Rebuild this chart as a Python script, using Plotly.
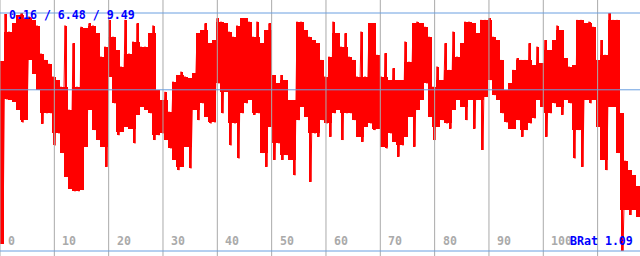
import numpy as np
import plotly.graph_objects as go

# Upper / lower envelope of the signal, read per ~4 px column (left -> right)
HI = [7.6, 9.45, 8.76, 9.08, 9.4, 9.48, 9.28, 9.35, 9.2, 9.0, 7.9, 7.65, 7.5, 7.0, 6.86, 6.6,
      9.0, 5.7, 8.3, 6.6, 8.95, 8.9, 9.08, 9.0, 8.69, 7.78, 8.17, 9.22, 8.56, 8.04, 7.39, 9.22,
      7.9, 8.37, 9.08, 8.17, 8.17, 8.69, 9.0, 6.47, 6.08, 6.4, 5.62, 6.8, 7.06, 7.19, 7.0, 6.93,
      7.13, 8.69, 8.82, 9.08, 8.3, 8.43, 9.28, 9.15, 9.08, 8.76, 8.56, 9.0, 9.28, 9.28, 9.15, 8.56,
      9.15, 8.3, 8.82, 9.08, 7.06, 6.73, 7.06, 6.86, 6.08, 6.08, 9.15, 9.15, 8.82, 8.56, 8.43, 8.3,
      7.65, 7.0, 7.78, 9.15, 8.69, 8.17, 8.69, 7.78, 7.65, 7.0, 8.76, 7.0, 9.08, 9.08, 7.85, 7.0,
      7.91, 6.86, 7.32, 6.86, 6.86, 8.37, 7.58, 9.08, 9.15, 9.08, 8.95, 8.56, 6.6, 7.39, 6.86, 8.3,
      7.26, 8.76, 7.78, 8.3, 9.15, 9.15, 9.08, 8.69, 9.22, 9.22, 9.28, 8.56, 8.43, 7.65, 6.47, 6.73,
      7.26, 7.71, 7.65, 7.65, 8.3, 7.45, 8.17, 7.52, 8.43, 8.04, 8.43, 9.0, 8.82, 7.71, 7.39, 7.45,
      9.22, 9.22, 9.08, 9.15, 8.95, 7.65, 8.43, 7.85, 9.49, 9.22, 9.22, 5.56, 3.7, 3.33, 3.14, 2.7]
LO = [0.45, 6.1, 6.08, 6.0, 5.7, 5.2, 5.3, 7.65, 7.1, 6.47, 5.15, 5.56, 5.56, 4.3, 4.77, 4.0,
      3.07, 2.6, 2.5, 2.5, 2.55, 4.25, 5.7, 4.9, 4.51, 4.25, 3.46, 7.0, 5.95, 4.7, 4.83, 5.03,
      4.96, 4.38, 5.5, 5.82, 5.7, 5.56, 4.51, 4.7, 4.77, 4.51, 4.18, 3.73, 3.33, 3.46, 4.25, 3.4,
      5.7, 5.29, 5.95, 5.43, 5.16, 5.2, 6.73, 5.56, 6.4, 4.3, 5.16, 3.79, 5.56, 5.95, 6.08, 5.5,
      5.56, 4.0, 3.46, 5.03, 3.73, 4.38, 3.73, 3.92, 3.73, 3.13, 5.29, 5.82, 5.43, 2.87, 4.77, 4.64,
      5.29, 5.16, 4.64, 5.56, 5.7, 4.51, 5.56, 5.56, 5.29, 4.64, 4.44, 5.03, 5.16, 4.9, 4.96, 4.25,
      4.18, 4.77, 4.44, 3.86, 4.3, 4.64, 5.43, 4.25, 5.7, 6.08, 6.73, 5.43, 4.51, 5.03, 5.29, 5.16,
      4.96, 5.7, 6.08, 5.82, 5.29, 6.08, 4.96, 6.08, 4.12, 6.21, 6.86, 6.27, 6.08, 5.56, 5.2, 4.96,
      4.96, 5.29, 4.64, 4.9, 5.16, 5.36, 6.08, 5.82, 4.64, 5.56, 5.95, 5.82, 5.5, 6.08, 5.95, 3.79,
      4.9, 3.46, 6.08, 5.95, 6.08, 5.03, 3.73, 3.33, 5.82, 5.82, 4.0, 0.16, 1.77, 1.57, 1.77, 1.5]

STATS_TEXT = "0.16 / 6.48 / 9.49"
REF_LEVELS = [0.16, 6.48, 9.49]          # min / mean / max
X_TICKS = [0, 10, 20, 30, 40, 50, 60, 70, 80, 90, 100]
X_GRID = [0, 10, 20, 30, 40, 50, 60, 70, 80, 90, 100, 110]
BRAT_TEXT = "BRat 1.09"
X_MAX = 117.8
COL_WIDTH = X_MAX / len(HI)               # x units per envelope column

hi = np.array(HI)
lo = np.array(LO)
centers = (np.arange(len(HI)) + 0.5) * COL_WIDTH

# dense core of each column = part shared with a neighbouring column;
# the rest of the range is drawn as a thin spike
hp = np.r_[hi[0], hi[:-1]]
hn = np.r_[hi[1:], hi[-1]]
lp = np.r_[lo[0], lo[:-1]]
ln = np.r_[lo[1:], lo[-1]]
core_top = np.maximum(np.minimum(hi, hp), np.minimum(hi, hn))
core_bot = np.minimum(np.maximum(lo, lp), np.maximum(lo, ln))
core_bot = np.minimum(core_bot, core_top)

# zig-zag series through the envelope
vals = []
for h, l in zip(HI, LO):
    vals.extend([h, l])
xs = np.arange(len(vals)) * (COL_WIDTH / 2.0) + COL_WIDTH / 4.0

fig = go.Figure()
fig.add_trace(go.Bar(x=centers, y=hi - lo, base=lo, width=COL_WIDTH * 0.38,
                     marker=dict(color="#ff0000", line=dict(width=0)),
                     hoverinfo="skip", showlegend=False))
fig.add_trace(go.Bar(x=centers, y=core_top - core_bot, base=core_bot, width=COL_WIDTH * 0.8,
                     marker=dict(color="#ff0000", line=dict(width=0)),
                     hoverinfo="skip", showlegend=False))
fig.add_trace(go.Scatter(x=xs, y=vals, mode="lines",
                         line=dict(color="#ff0000", width=1),
                         hoverinfo="skip", showlegend=False))

shapes = []
for g in X_GRID:
    shapes.append(dict(type="line", xref="x", yref="paper", x0=g, x1=g, y0=0, y1=1,
                       line=dict(color="#aaaaaa", width=1), layer="above"))
for lv in REF_LEVELS:
    shapes.append(dict(type="line", xref="paper", yref="y", x0=0, x1=1, y0=lv, y1=lv,
                       line=dict(color="#6a9fe0", width=1), layer="above"))

mono = "DejaVu Sans Mono"
ann = []
for t in X_TICKS:
    ann.append(dict(x=t, xref="x", y=1 - 241 / 256, yref="paper", text=str(t),
                    showarrow=False, xanchor="left", yanchor="middle", xshift=6,
                    font=dict(family=mono, size=11.6, color="#aaaaaa", weight="bold")))
ann.append(dict(x=7 / 640, xref="paper", y=1 - 14.5 / 256, yref="paper", text=STATS_TEXT,
                showarrow=False, xanchor="left", yanchor="middle",
                font=dict(family=mono, size=11.6, color="#0000ff", weight="bold")))
ann.append(dict(x=568 / 640, xref="paper", y=1 - 241 / 256, yref="paper", text=BRAT_TEXT,
                showarrow=False, xanchor="left", yanchor="middle",
                font=dict(family=mono, size=11.6, color="#0000ff", weight="bold")))

fig.update_layout(
    width=640, height=256, margin=dict(l=0, r=0, t=0, b=0),
    paper_bgcolor="white", plot_bgcolor="white", bargap=0, barmode="overlay",
    xaxis=dict(range=[0, X_MAX], visible=False, fixedrange=True),
    yaxis=dict(range=[-0.036, 10.0], visible=False, fixedrange=True),
    shapes=shapes, annotations=ann, showlegend=False,
)
fig.write_html("out.html")
